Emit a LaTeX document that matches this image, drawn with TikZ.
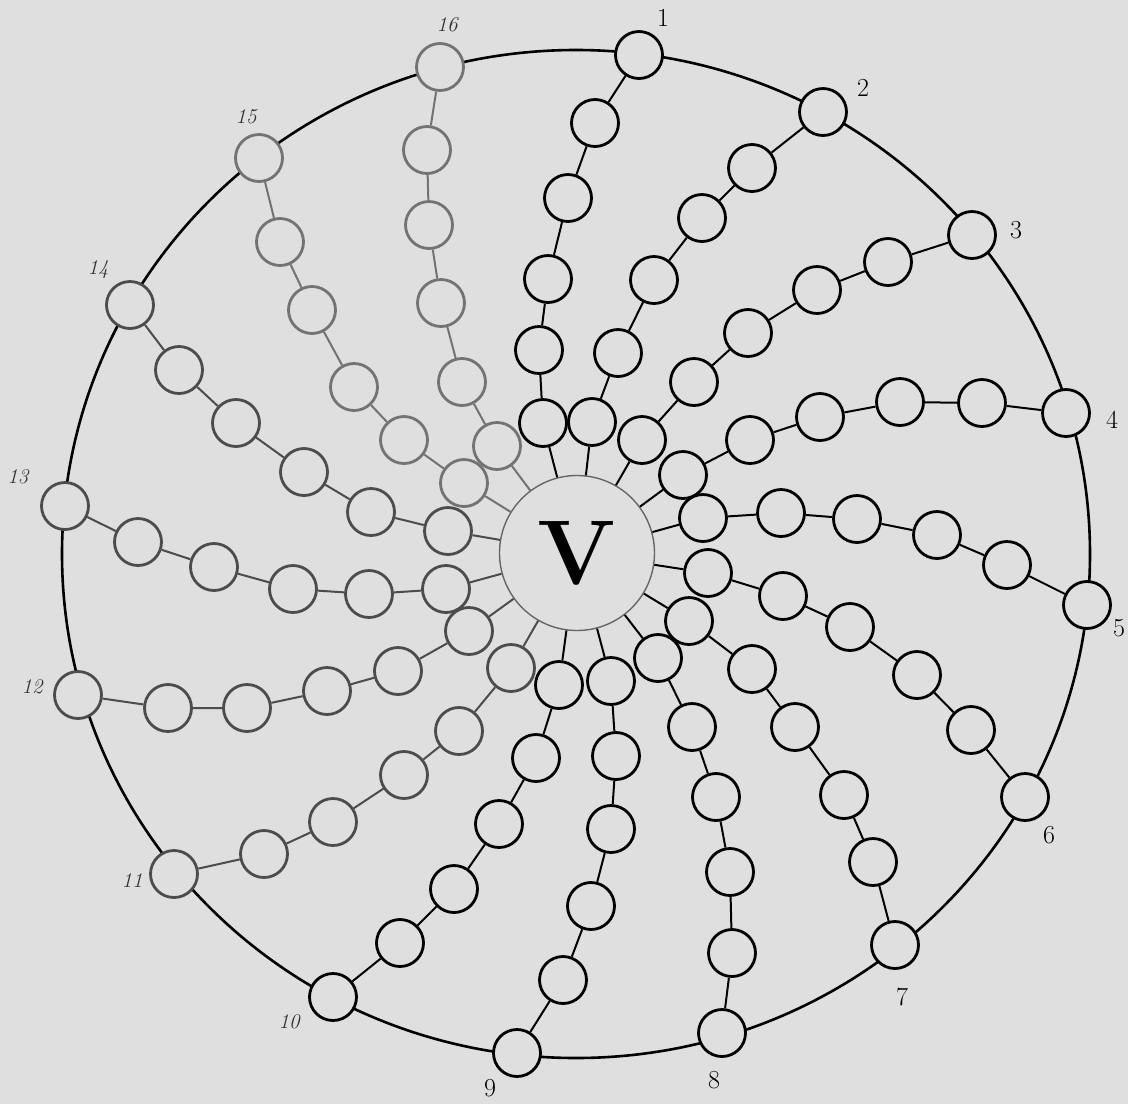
\documentclass[tikz,border=0pt]{standalone}
\usepackage{tikz}
\usetikzlibrary{positioning}
\definecolor{paper}{RGB}{223,223,223}
\tikzset{
  bead/.style={circle,draw,line width=2.8pt,minimum size=47pt,inner sep=0pt,fill=paper},
  hub/.style={circle,draw=black!60,line width=1.4pt,minimum size=155pt,inner sep=0pt,fill=paper,font=\fontsize{92}{92}\selectfont\bfseries},
  link/.style={line width=2pt},
  ring/.style={line width=2.6pt},
  pale/.style={draw=black!70},
  paler/.style={draw=black!55},
  num/.style={font=\fontsize{26}{26}\selectfont},
  numi/.style={font=\fontsize{21}{21}\selectfont\itshape,text=black!80}
}
% one spoke: outer bead on the ring, five beads inwards, then the hub
\newcommand{\spoke}[8][]{%
  \node[bead,#1] (o#2) at (#3) {};
  \node[bead,#1] (b#2a) at (#4) {};
  \node[bead,#1] (b#2b) at (#5) {};
  \node[bead,#1] (b#2c) at (#6) {};
  \node[bead,#1] (b#2d) at (#7) {};
  \node[bead,#1] (b#2e) at (#8) {};
  \draw[link,#1] (o#2) -- (b#2a) -- (b#2b) -- (b#2c) -- (b#2d) -- (b#2e) -- (hub);
}

\begin{document}
\begin{tikzpicture}[x=1pt,y=-1pt]
\useasboundingbox (0,0) rectangle (1128,1104);
\fill[paper] (0,0) rectangle (1128,1104);
\draw[ring] (576,554) ellipse [x radius=514, y radius=504];
\node[hub] (hub) at (577,553) {V};
\spoke{1}{639,55}{595,123}{568,198}{548,279}{539,350}{543,423}
\spoke{2}{823,112}{752,168}{702,218}{654,280}{618,353}{592,422}
\spoke{3}{972,235}{888,262}{817,290}{748,333}{694,382}{642,440}
\spoke{4}{1066,413}{982,403}{900,402}{820,417}{750,440}{683,475}
\spoke{5}{1087,605}{1007,565}{937,535}{857,519}{781,513}{703,518}
\spoke{6}{1025,797}{971,730}{917,675}{850,627}{783,596}{708,573}
\spoke{7}{895,945}{873,862}{844,795}{795,727}{752,669}{689,621}
\spoke{8}{722,1033}{732,953}{730,872}{716,797}{692,727}{658,658}
\spoke{9}{517,1053}{563,980}{591,906}{611,829}{616,756}{611,681}
\spoke{10}{333,997}{400,943}{454,889}{499,824}{536,758}{559,685}
\spoke[pale]{11}{174,874}{264,854}{333,822}{404,775}{459,731}{511,668}
\spoke[pale]{12}{78,695}{168,708}{247,708}{327,691}{398,671}{469,631}
\spoke[pale]{13}{65,506}{138,542}{214,567}{293,589}{369,594}{446,589}
\spoke[pale]{14}{130,305}{179,370}{236,423}{304,472}{371,512}{448,531}
\spoke[paler]{15}{259,158}{280,242}{312,310}{354,387}{404,440}{464,483}
\spoke[paler]{16}{440,67}{427,150}{429,225}{441,303}{462,382}{497,446}
% numbers
\node[num] (t1) at (663,18) {1};
\node[num] (t2) at (863,88) {2};
\node[num] (t3) at (1016,230) {3};
\node[num] (t4) at (1112,420) {4};
\node[num] (t5) at (1119,628) {5};
\node[num] (t6) at (1049,835) {6};
\node[num] (t7) at (902,997) {7};
\node[num] (t8) at (714,1080) {8};
\node[num] (t9) at (490,1088) {9};
\node[numi] (t10) at (289,1022) {10};
\node[numi] (t11) at (132,881) {11};
\node[numi] (t12) at (32,687) {12};
\node[numi] (t13) at (18,477) {13};
\node[numi] (t14) at (98,270) {14};
\node[numi] (t15) at (246,117) {15};
\node[numi] (t16) at (447,25) {16};
\end{tikzpicture}
\end{document}
